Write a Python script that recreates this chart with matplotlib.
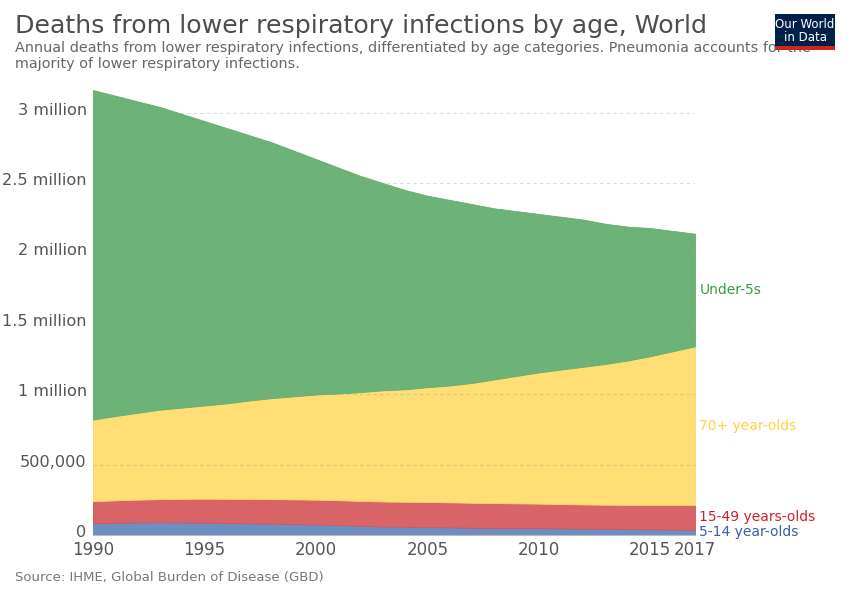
import matplotlib
matplotlib.use("Agg")
import matplotlib.pyplot as plt
from matplotlib.patches import Rectangle
from matplotlib.ticker import FixedLocator
from matplotlib.transforms import ScaledTranslation

years = list(range(1990, 2018))
# deaths in thousands per layer
age_5_14 = [84, 87, 90, 91, 90, 88, 86, 83, 81, 78, 75, 71, 66, 60, 58, 57, 55, 52,
            51, 50, 49, 48, 46, 45, 43, 41, 39, 37]
age_15_49 = [156, 159, 161, 164, 167, 170, 171, 173, 174, 175, 176, 176, 176, 178, 178,
             178, 177, 177, 176, 175, 174, 172, 171, 170, 171, 173, 175, 177]
age_70_plus = [580, 599, 617, 635, 648, 662, 678, 699, 717, 732, 747, 758, 773, 790, 799,
               815, 830, 851, 878, 905, 932, 955, 978, 1000, 1026, 1056, 1091, 1126]
under_5 = [2340, 2275, 2212, 2150, 2085, 2020, 1955, 1885, 1818, 1745, 1672, 1605, 1535,
           1472, 1415, 1360, 1318, 1270, 1215, 1170, 1125, 1085, 1045, 995, 950, 910, 855, 800]

series_names = ["5-14 year-olds", "15-49 years-olds", "70+ year-olds", "Under-5s"]
fill_colors = ["#6E8EC2", "#D86467", "#FFDE75", "#6DB276"]
label_colors = ["#3560A8", "#D0202A", "#FFD24A", "#3A9A45"]
edge_colors = ["#5F82BC", "#D0565A", "#FAD86A", "#64AD6D"]

xticks = [1990, 1995, 2000, 2005, 2010, 2015, 2017]
yticks = [0, 500000, 1000000, 1500000, 2000000, 2500000, 3000000]
ytick_labels = ["0", "500,000", "1 million", "1.5 million", "2 million", "2.5 million", "3 million"]

fig = plt.figure(figsize=(8.5, 6), dpi=100)
ax = fig.add_axes([0.1094, 0.1083, 0.7082, 0.751])

data = [[v * 1000 for v in s] for s in (age_5_14, age_15_49, age_70_plus, under_5)]
ax.stackplot(years, *data, colors=fill_colors, linewidth=0.6)
for poly, ec in zip(ax.collections, edge_colors):
    poly.set_edgecolor(ec)

ax.set_xlim(1990, 2017)
ax.set_ylim(0, 3200000)
ax.yaxis.set_major_locator(FixedLocator(yticks))
ax.set_yticklabels(ytick_labels)
ax.set_xticks(xticks)
ax.set_xticklabels([str(x) for x in xticks])
ax.tick_params(axis="y", length=0, pad=4.5, labelsize=11.6, labelcolor="#555555")
ax.tick_params(axis="x", length=0, pad=4, labelsize=12, labelcolor="#555555")
off = ScaledTranslation(0, 4 / 100, fig.dpi_scale_trans)
for t in ax.get_yticklabels():
    t.set_transform(t.get_transform() + off)
for s in ["top", "right", "left"]:
    ax.spines[s].set_visible(False)
ax.spines["bottom"].set_color("#BBBBBB")
ax.grid(axis="y", linestyle=(0, (3, 3)), color="#999999", alpha=0.35, linewidth=0.8)
ax.set_axisbelow(False)
ax.xaxis.grid(False)

# right labels
cum = 0
x_last = years[-1]
for name, s, lc in zip(series_names, data, label_colors):
    mid = cum + s[-1] / 2
    cum += s[-1]
    ax.text(x_last + 0.2, mid, name, color=lc, fontsize=10, va="center", ha="left",
            clip_on=False)

fig.text(0.018, 0.957, "Deaths from lower respiratory infections by age, World",
         fontsize=18.2, color="#4D4D4D", va="center", ha="left")
fig.text(0.018, 0.907,
         "Annual deaths from lower respiratory infections, differentiated by age categories. Pneumonia accounts for the\nmajority of lower respiratory infections.",
         fontsize=10.4, color="#666666", va="center", ha="left", linespacing=1.15)
fig.text(0.018, 0.038, "Source: IHME, Global Burden of Disease (GBD)", fontsize=9.5,
         color="#777777", va="center", ha="left")

# logo
fig.patches.append(Rectangle((775 / 850, 1 - 50 / 600), 60 / 850, 36 / 600,
                             transform=fig.transFigure, facecolor="#002147",
                             edgecolor="none", zorder=10))
fig.patches.append(Rectangle((775 / 850, 1 - 50 / 600), 60 / 850, 4 / 600,
                             transform=fig.transFigure, facecolor="#CE261E",
                             edgecolor="none", zorder=11))
fig.text(805 / 850, 1 - 31 / 600, "Our World\nin Data", color="white", fontsize=8.5,
         ha="center", va="center", linespacing=1.0, zorder=12)

fig.savefig("out.png", dpi=100)
